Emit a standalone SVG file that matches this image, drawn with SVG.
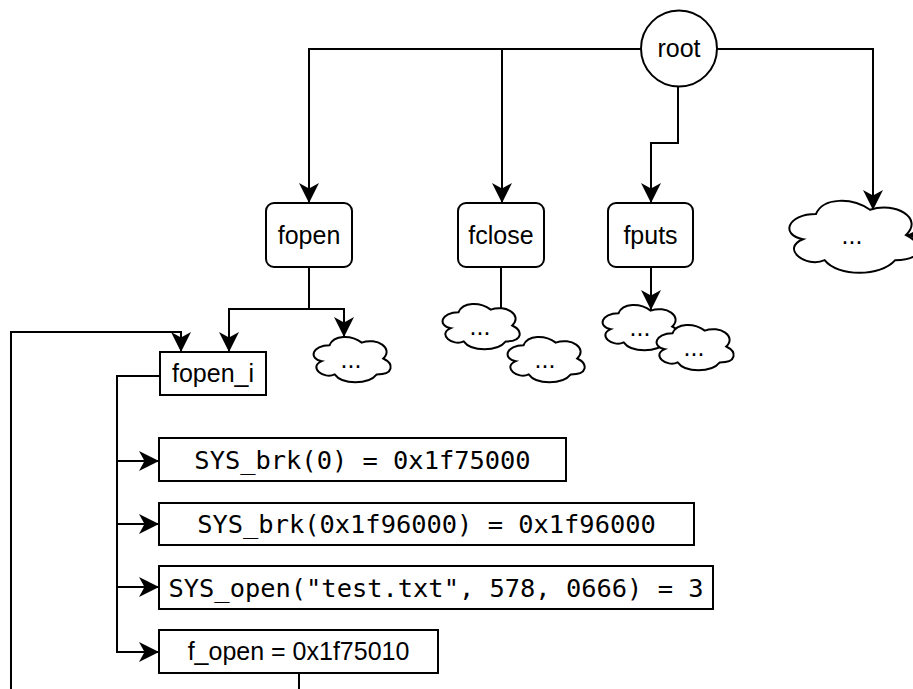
<svg xmlns="http://www.w3.org/2000/svg" xmlns:xlink="http://www.w3.org/1999/xlink" width="913" height="689" viewBox="0 0 913 689">
  <style>
    .shape { fill: #ffffff; stroke: #000000; stroke-width: 2; }
    .edge { fill: none; stroke: #000000; stroke-width: 2; }
    .lbl { font-family: "Liberation Sans", Arial, Helvetica, sans-serif; font-size: 25px; fill: #000000; text-anchor: middle; }
    .mono { font-family: "DejaVu Sans Mono", "Liberation Mono", monospace; font-size: 25.4px; fill: #000000; text-anchor: middle; }
  </style>
  <defs>
    <marker id="arr" markerUnits="userSpaceOnUse" markerWidth="20" markerHeight="20" viewBox="0 0 20 20" refX="20" refY="10" orient="auto">
      <path d="M0,0 L20,10 L0,20 L5.5,10 Z" fill="#000000"/>
    </marker>
    <path id="cloudS" class="shape" d="M21.5,13.25 C4.3,13.25 0,26.5 13.76,29.15 C0,34.98 15.48,47.7 26.66,42.4 C34.4,53 60.2,53 68.8,42.4 C86,42.4 86,31.8 75.25,26.5 C86,15.9 68.8,5.3 53.75,10.6 C43,2.65 25.8,2.65 21.5,13.25 Z"/>
  </defs>
  <rect width="913" height="689" fill="#ffffff"/>

  <g id="connectors">
    <path class="edge" d="M641,49 H309 V203" marker-end="url(#arr)"/>
    <path class="edge" d="M641,49 H502 V203" marker-end="url(#arr)"/>
    <path class="edge" d="M678,87 V143 H651 V203" marker-end="url(#arr)"/>
    <path class="edge" d="M717,49 H873 V210" marker-end="url(#arr)"/>
    <path class="edge" d="M925,235 H907" marker-end="url(#arr)"/>
    <path class="edge" d="M309,267 V309 H229 V352" marker-end="url(#arr)"/>
    <path class="edge" d="M309,309 H344 V337" marker-end="url(#arr)"/>
    <path class="edge" d="M501,267 V308"/>
    <path class="edge" d="M651,267 V310" marker-end="url(#arr)"/>
    <path class="edge" d="M11,689 V332 H181 V352" marker-end="url(#arr)"/>
    <path class="edge" d="M160,376 H117 V461 H159" marker-end="url(#arr)"/>
    <path class="edge" d="M117,461 V524 H159" marker-end="url(#arr)"/>
    <path class="edge" d="M117,524 V587 H159" marker-end="url(#arr)"/>
    <path class="edge" d="M117,587 V652 H159" marker-end="url(#arr)"/>
    <path class="edge" d="M299,673 V689"/>
  </g>

  <g id="root">
    <circle class="shape" cx="679" cy="48.5" r="38"/>
    <text class="lbl" x="679" y="57">root</text>
  </g>

  <g id="fopen">
    <rect class="shape" x="266" y="203" width="86" height="64" rx="8" ry="8"/>
    <text class="lbl" x="309" y="244">fopen</text>
  </g>
  <g id="fclose">
    <rect class="shape" x="458" y="203" width="86" height="64" rx="8" ry="8"/>
    <text class="lbl" x="501" y="244">fclose</text>
  </g>
  <g id="fputs">
    <rect class="shape" x="608" y="203" width="85" height="64" rx="8" ry="8"/>
    <text class="lbl" x="650.5" y="244">fputs</text>
  </g>

  <g id="cloud-other">
    <path class="shape" transform="translate(780,193)" d="M36,21 C7.2,21 0,42 23.04,46.2 C0,55.44 25.92,75.6 44.64,67.2 C57.6,84 100.8,84 115.2,67.2 C144,67.2 144,50.4 126,42 C144,25.2 115.2,8.4 90,16.8 C72,4.2 43.2,4.2 36,21 Z"/>
    <text class="lbl" x="852" y="244">...</text>
  </g>

  <g id="cloud-fopen">
    <use xlink:href="#cloudS" href="#cloudS" x="308" y="332"/>
    <text class="lbl" x="351" y="367.5">...</text>
  </g>
  <g id="cloud-fclose-1">
    <use xlink:href="#cloudS" href="#cloudS" x="437" y="299"/>
    <text class="lbl" x="480" y="334.5">...</text>
  </g>
  <g id="cloud-fclose-2">
    <use xlink:href="#cloudS" href="#cloudS" x="502" y="332"/>
    <text class="lbl" x="545" y="367.5">...</text>
  </g>
  <g id="cloud-fputs-1">
    <use xlink:href="#cloudS" href="#cloudS" x="597" y="300"/>
    <text class="lbl" x="640" y="335.5">...</text>
  </g>
  <g id="cloud-fputs-2">
    <use xlink:href="#cloudS" href="#cloudS" x="651" y="320"/>
    <text class="lbl" x="694" y="355.5">...</text>
  </g>

  <g id="fopen_i">
    <rect class="shape" x="160" y="352" width="106" height="43"/>
    <text class="lbl" x="213" y="382">fopen_i</text>
  </g>

  <g id="sys_brk_0">
    <rect class="shape" x="159" y="438" width="407" height="43"/>
    <text class="mono" x="362.5" y="469">SYS_brk(0) = 0x1f75000</text>
  </g>
  <g id="sys_brk_1">
    <rect class="shape" x="159" y="503" width="535" height="42"/>
    <text class="mono" x="426.5" y="533">SYS_brk(0x1f96000) = 0x1f96000</text>
  </g>
  <g id="sys_open">
    <rect class="shape" x="159" y="566" width="554" height="43"/>
    <text class="mono" x="436" y="597">SYS_open("test.txt", 578, 0666) = 3</text>
  </g>
  <g id="f_open">
    <rect class="shape" x="159" y="630" width="279" height="43"/>
    <text class="lbl" x="298.5" y="660">f_open = 0x1f75010</text>
  </g>
</svg>
